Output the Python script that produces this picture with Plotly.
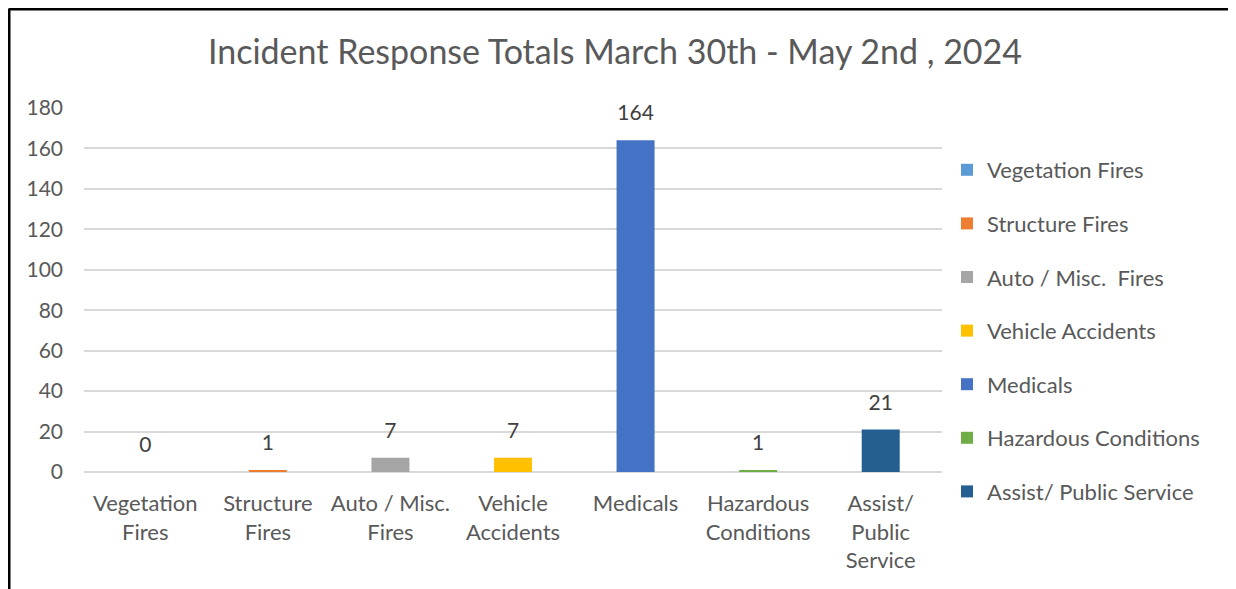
import plotly.graph_objects as go

categories = ["Vegetation Fires", "Structure Fires", "Auto / Misc.  Fires", "Vehicle Accidents",
              "Medicals", "Hazardous Conditions", "Assist/ Public Service"]
tick_labels = ["Vegetation<br>Fires", "Structure<br>Fires", "Auto / Misc.<br>Fires", "Vehicle<br>Accidents",
               "Medicals", "Hazardous<br>Conditions", "Assist/<br>Public<br>Service"]
values = [0, 1, 7, 7, 164, 1, 21]
colors = ["#5B9BD5", "#ED7D31", "#A5A5A5", "#FFC000", "#4472C4", "#70AD47", "#255E91"]

FONT = "Lato"
W, H = 1228, 581          # page body adds an 8px offset
ml, mr, mt, mb = 76, 294, 100, 117
pw = W - ml - mr
ph = H - mt - mb
xs = list(range(len(categories)))

fig = go.Figure()
for i, (cat, v, c) in enumerate(zip(categories, values, colors)):
    fig.add_trace(go.Bar(
        x=[i], y=[v], name=cat, marker=dict(color=c, line=dict(width=0)),
        width=0.31, legendgroup=f"g{i}", hoverinfo="name+y",
    ))

# data labels
fig.add_trace(go.Scatter(
    x=xs, y=values, mode="markers+text", text=[str(v) for v in values],
    textposition="top center", marker=dict(size=22, color="rgba(0,0,0,0)"),
    textfont=dict(family=FONT, size=21, color="#404040"),
    showlegend=False, hoverinfo="skip", cliponaxis=False,
))

fig.update_layout(
    width=W, height=H,
    margin=dict(l=ml, r=mr, t=mt, b=mb),
    paper_bgcolor="white", plot_bgcolor="white",
    barmode="overlay",
    font=dict(family=FONT, color="#595959", size=21),
    title=dict(text="Incident Response Totals March 30th - May 2nd , 2024",
               x=607 / W, xanchor="center", y=1 - 44 / H, yanchor="middle",
               font=dict(family=FONT, size=34, color="#595959")),
    xaxis=dict(tickmode="array", tickvals=xs, ticktext=tick_labels,
               range=[-0.5, len(categories) - 0.5], showgrid=False, showline=False, zeroline=False,
               ticks="", ticklabelstandoff=16, tickfont=dict(family=FONT, size=22, color="#595959")),
    yaxis=dict(range=[0, 180], dtick=20, showgrid=True, gridcolor="#D9D9D9", gridwidth=1.5,
               zeroline=True, zerolinecolor="#D9D9D9", zerolinewidth=1.5, showline=False,
               ticks="", ticklabelstandoff=20,
               tickfont=dict(family=FONT, size=21, color="#595959")),
    legend=dict(x=(939 - ml) / pw, xanchor="left", y=1 - (141 - mt) / ph, yanchor="top",
                font=dict(family=FONT, size=22, color="#595959"),
                tracegroupgap=22, itemwidth=30, bgcolor="rgba(0,0,0,0)"),
    showlegend=True,
)

# frame lines (top and left)
fig.add_shape(type="line", xref="paper", yref="paper",
              x0=(0.5 - ml) / pw, x1=(W - ml) / pw, y0=1 + (mt - 1) / ph, y1=1 + (mt - 1) / ph,
              line=dict(color="black", width=3))
fig.add_shape(type="line", xref="paper", yref="paper",
              x0=(1.0 - ml) / pw, x1=(1.0 - ml) / pw, y0=1 + (mt - 1) / ph, y1=-(mb + 5) / ph,
              line=dict(color="black", width=3))

fig.write_html("out.html")
